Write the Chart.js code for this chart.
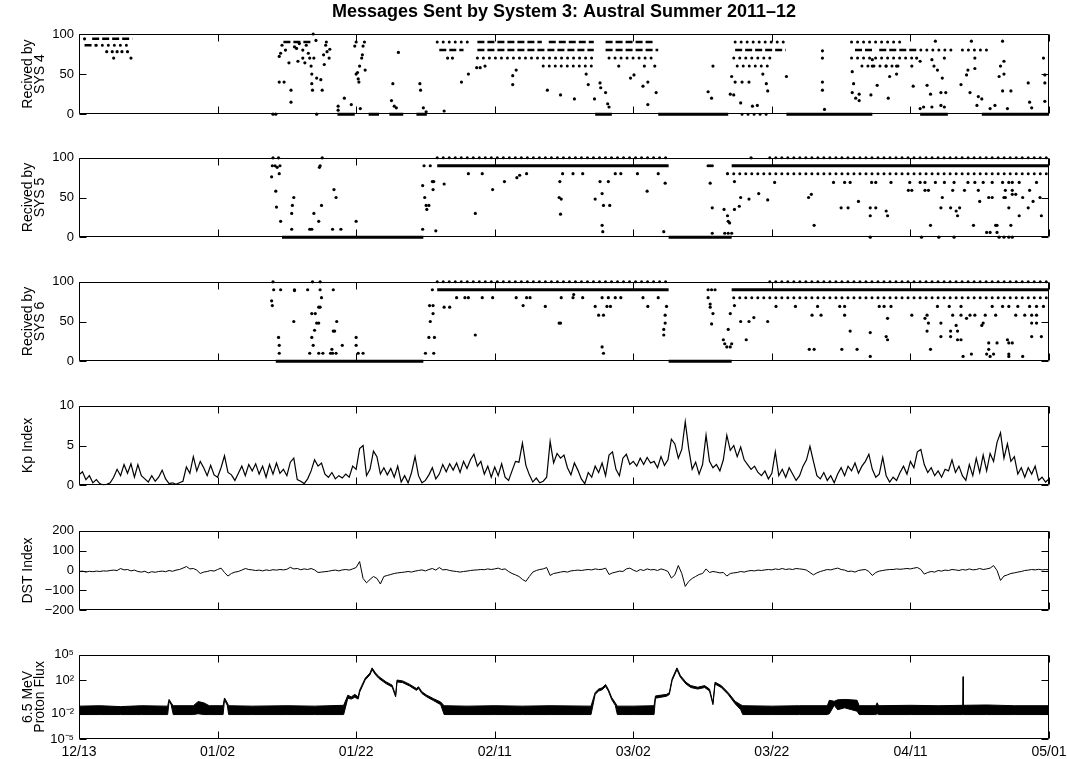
<!DOCTYPE html>
<html>
<head>
<meta charset="utf-8">
<script src="https://cdn.jsdelivr.net/npm/chart.js@4.4.1/dist/chart.umd.min.js"></script>
<style>
  body { margin: 0; background: #fff; width: 1067px; height: 759px; overflow: hidden; position: relative; }
  canvas { position: absolute; left: 0; }
</style>
</head>
<body>
<canvas id="sys4"></canvas>
<canvas id="sys5"></canvas>
<canvas id="sys6"></canvas>
<canvas id="kp"></canvas>
<canvas id="dst"></canvas>
<canvas id="flux"></canvas>
<script>
const chartTitle = 'Messages Sent by System 3: Austral Summer 2011\u201312';

// x axis: days since 12/13/2011
const xTickDays = [0, 20, 40, 60, 80, 100, 120, 140];
const xTickLabels = ['12/13', '01/02', '01/22', '02/11', '03/02', '03/22', '04/11', '05/01'];

// messages received: dense rows [fromDay, toDay, value], sparse rows, single points [day, value]
const sys4Dense = [
  [0.8, 2.5, 86], [1.9, 7.7, 94], [29.5, 33.5, 90], [52.0, 55.5, 80],
  [57.5, 66.8, 90], [67.8, 74.3, 90], [57.5, 74.3, 80], [76.0, 83.0, 90], [76.0, 83.6, 80],
  [94.7, 102.0, 80], [112.0, 114.5, 80], [115.5, 121.0, 80],
  [37.3, 39.8, 0], [41.8, 43.3, 0], [44.8, 46.8, 0], [48.7, 50.2, 0],
  [74.5, 76.9, 0], [83.6, 93.7, 0], [102.1, 114.5, 0], [121.4, 125.4, 0], [130.3, 140, 0]
];
const sys4Sparse = [
  [2.5, 7.7, 86], [51.7, 56.2, 90], [57.5, 74.5, 70], [67.0, 74.5, 60], [76.5, 83.0, 70],
  [94.7, 102.0, 90], [94.5, 100.0, 70], [95.0, 100.0, 60],
  [111.5, 118.5, 90], [111.5, 121.0, 70], [113.0, 119.0, 60],
  [121.5, 126.0, 80], [127.5, 131.0, 80], [95.7, 99.7, 0]
];
const sys4Points = [
  [0.8, 94], [4.0, 78], [4.8, 78], [5.5, 78], [6.2, 78], [7.0, 78], [5.0, 70], [7.5, 70],
  [28.0, 0], [28.4, 0], [28.9, 40], [29.6, 40], [28.9, 72], [29.1, 76], [29.3, 86], [29.8, 80], [30.3, 64],
  [30.6, 30], [30.6, 15], [31.1, 84], [31.4, 82], [31.6, 66], [31.8, 88], [32.3, 80], [32.3, 70], [32.6, 64],
  [32.8, 86], [33.1, 76], [33.3, 70], [33.5, 60], [33.6, 50], [33.6, 38], [33.7, 30], [33.8, 100], [33.9, 70],
  [34.2, 92], [34.3, 45], [34.3, 0], [34.9, 43], [35.1, 30], [35.3, 74], [35.4, 62], [35.6, 86], [35.7, 90],
  [35.8, 78], [36.1, 70], [36.2, 81],
  [37.4, 10], [37.4, 5], [38.3, 20], [39.3, 12], [39.8, 85], [40.0, 90], [40.0, 50], [40.2, 52], [40.4, 40],
  [40.3, 44], [40.5, 60], [40.8, 70], [40.9, 74], [41.0, 85], [41.2, 90], [41.3, 55], [40.6, 7],
  [45.3, 38], [45.1, 17], [45.5, 10], [45.8, 8], [46.1, 77], [49.2, 38], [49.3, 30], [49.7, 8], [50.1, 3], [52.7, 4],
  [53.2, 70], [53.9, 70], [55.2, 40], [56.2, 50], [57.4, 58], [57.9, 58], [58.6, 60], [62.6, 48], [62.6, 37], [63.1, 55],
  [67.6, 30], [69.5, 24], [71.5, 19], [73.2, 50], [73.5, 37], [74.4, 19], [75.2, 39], [75.3, 33], [76.0, 27],
  [76.3, 13], [76.5, 9], [77.9, 60], [79.6, 45], [80.1, 49], [81.4, 35], [82.1, 40], [82.1, 12], [83.3, 27],
  [81.6, 60], [83.1, 60],
  [90.8, 28], [91.3, 20], [91.5, 60], [94.0, 25], [94.5, 24], [94.2, 47], [94.7, 40], [95.5, 14], [95.7, 40],
  [96.7, 40], [97.2, 10], [97.9, 11], [98.7, 50], [99.2, 38], [99.4, 29], [102.1, 47],
  [107.3, 79], [107.3, 70], [107.3, 40], [107.3, 30], [107.6, 6],
  [111.6, 53], [111.8, 38], [111.6, 27], [112.6, 25], [112.6, 17], [112.1, 20], [114.3, 24], [115.2, 36],
  [116.8, 20], [117.0, 47], [118.0, 50], [114.5, 68], [114.5, 60], [116.5, 60], [118.0, 60], [120.2, 60],
  [120.9, 70], [121.4, 66], [120.4, 35], [121.4, 7], [121.9, 9],
  [122.4, 36], [122.9, 25], [123.1, 68], [123.4, 60], [123.9, 55], [123.6, 91], [124.4, 27], [124.6, 45],
  [124.9, 70], [125.1, 27], [123.1, 9], [124.4, 11], [124.9, 9],
  [127.3, 37], [128.1, 49], [128.3, 55], [128.6, 27], [128.8, 91], [129.3, 70], [129.3, 57], [129.6, 11],
  [129.8, 22], [130.3, 19], [131.5, 7], [132.2, 11], [132.8, 47], [133.0, 60], [133.3, 91], [133.5, 66],
  [133.5, 50], [133.3, 29], [134.0, 7], [134.5, 29], [137.0, 39], [137.2, 15], [137.5, 8],
  [139.2, 70], [139.4, 49], [139.4, 39], [139.4, 16]
];

const sys5Dense = [[29.3, 49.7, 0], [51.7, 85.1, 90], [85.1, 94.2, 0], [94.2, 140, 90]];
const sys5Sparse = [[51.7, 85.1, 100], [99.7, 140, 100], [94.5, 140, 80]];
const sys5Points = [
  [28.0, 100], [28.8, 100], [27.9, 90], [28.3, 90], [28.6, 88], [29.0, 90], [28.9, 80], [27.8, 76], [28.4, 58],
  [28.5, 38], [29.1, 20], [30.7, 10], [30.7, 30], [30.8, 40], [31.0, 50], [33.3, 10], [33.6, 10], [33.9, 30],
  [34.6, 20], [34.7, 88], [34.8, 90], [35.1, 100], [35.0, 40], [36.6, 10], [36.8, 60], [37.1, 50], [37.8, 10], [40.0, 20],
  [49.6, 65], [49.9, 50], [50.1, 40], [50.2, 35], [50.5, 40], [49.8, 90], [50.7, 90], [51.0, 70], [51.2, 70],
  [51.1, 60], [49.6, 10], [51.5, 8],
  [52.7, 67], [56.2, 80], [57.2, 30], [58.2, 80], [59.7, 60], [61.4, 70], [63.2, 75], [63.6, 78], [64.6, 80],
  [69.8, 80], [71.3, 80], [72.7, 80], [77.4, 80], [78.2, 80], [80.6, 80], [83.6, 80],
  [69.4, 70], [75.2, 70], [76.4, 70], [84.6, 68], [82.0, 58], [69.3, 50], [69.6, 48], [74.5, 48], [75.5, 55],
  [75.7, 40], [76.6, 40], [69.5, 29], [75.5, 15], [75.6, 7], [84.4, 7],
  [90.8, 90], [91.1, 90], [91.4, 90], [97.0, 100],
  [91.1, 68], [91.4, 37], [93.1, 35], [93.6, 27], [93.7, 20], [93.9, 18], [91.4, 5], [93.2, 5], [93.7, 5],
  [94.2, 5], [94.6, 35], [95.3, 39], [95.5, 50], [96.7, 48], [98.1, 55], [94.6, 70], [93.6, 80], [99.4, 47],
  [100.4, 69], [108.9, 69], [110.5, 69], [111.3, 69], [114.4, 69], [115.0, 69], [117.2, 69], [119.9, 69],
  [121.4, 69], [122.1, 69], [123.6, 69], [124.9, 69], [126.3, 69], [128.3, 69], [129.3, 69], [130.5, 69],
  [131.8, 69], [133.3, 69], [134.2, 69], [134.7, 69], [135.7, 69], [138.2, 69],
  [119.7, 59], [120.2, 59], [122.1, 59], [122.6, 59], [126.1, 59], [127.8, 59], [129.8, 59], [133.7, 59],
  [134.7, 59], [137.2, 59],
  [105.7, 54], [134.7, 54], [135.2, 54],
  [105.3, 50], [124.6, 50], [131.3, 50], [131.8, 50], [133.5, 50], [133.7, 50], [136.2, 50], [138.7, 50],
  [112.5, 45], [130.0, 45], [137.7, 45],
  [110.0, 37], [111.0, 37], [114.2, 37], [115.0, 37], [124.4, 37], [125.8, 37], [127.1, 37], [134.2, 37], [137.0, 37],
  [116.5, 33], [126.6, 33], [114.2, 27], [116.7, 27], [126.8, 27], [135.7, 27], [138.9, 27],
  [106.1, 15], [122.9, 15], [129.1, 15], [132.3, 15], [132.5, 15], [134.5, 15],
  [131.0, 6], [131.5, 6], [132.5, 6],
  [114.2, 0], [121.6, 0], [124.1, 0], [126.3, 0], [132.8, 0], [133.5, 0], [134.2, 0], [134.7, 0]
];

const sys6Dense = [[28.4, 49.7, 0], [51.7, 85.1, 90], [85.1, 94.2, 0], [94.2, 140, 90]];
const sys6Sparse = [[51.7, 85.1, 100], [99.7, 140, 100], [94.5, 140, 80]];
const sys6Points = [
  [28.0, 100], [33.7, 100], [34.8, 100], [28.1, 90], [29.1, 90], [31.1, 90], [33.0, 90], [34.8, 90], [36.7, 90],
  [31.1, 89], [27.8, 76], [27.9, 70], [35.0, 80], [34.6, 68], [34.8, 68], [33.6, 60], [34.1, 60], [34.3, 48],
  [34.6, 48], [31.0, 50], [37.2, 50], [34.0, 39], [36.7, 38], [36.9, 38], [28.8, 30], [33.6, 30], [40.0, 30],
  [28.9, 20], [33.8, 20], [38.0, 20], [40.0, 20], [36.5, 15],
  [28.9, 10], [33.3, 10], [34.6, 10], [35.2, 10], [36.3, 10], [36.6, 10], [37.1, 10], [40.3, 10], [41.0, 10],
  [51.0, 90], [50.6, 70], [51.1, 70], [51.1, 60], [50.7, 50], [50.5, 30], [51.3, 30], [50.0, 10], [51.2, 10],
  [52.7, 68], [53.5, 68], [54.5, 80], [55.7, 80], [56.2, 80], [58.2, 80], [59.7, 80], [63.1, 80], [64.6, 80],
  [64.1, 70], [57.2, 33],
  [65.1, 80], [69.6, 80], [71.3, 80], [72.7, 80], [75.5, 80], [76.4, 80], [77.4, 80], [78.2, 80], [81.4, 80],
  [83.6, 80], [71.4, 84], [67.3, 69], [74.5, 69], [76.2, 69], [76.7, 69], [82.1, 69], [84.8, 69],
  [75.0, 58], [75.7, 58], [84.6, 58], [69.3, 48], [69.5, 48], [84.6, 48], [84.4, 40], [84.4, 33], [75.5, 18], [75.7, 10],
  [90.8, 90], [91.3, 90], [91.8, 90], [90.8, 80], [91.1, 72], [91.1, 68], [91.5, 60], [94.0, 60], [91.3, 47],
  [93.7, 40], [93.0, 27], [93.2, 22], [94.2, 22], [93.5, 18], [94.0, 18], [96.3, 27], [95.5, 50], [96.7, 50],
  [97.4, 55], [99.4, 50], [94.6, 70],
  [100.6, 69], [103.4, 69], [106.6, 69], [109.8, 69], [110.5, 69], [115.5, 69], [116.2, 69], [117.2, 69],
  [123.9, 69], [125.6, 69], [127.3, 69], [131.8, 69], [133.3, 69], [134.2, 69], [135.5, 69], [137.2, 69],
  [138.2, 69], [139.2, 69],
  [105.8, 58], [107.1, 58], [110.5, 58], [120.2, 58], [122.4, 58], [126.1, 58], [127.3, 58], [128.6, 58],
  [129.3, 58], [130.8, 58], [132.3, 58], [135.2, 58], [136.5, 58], [137.5, 58], [138.2, 58],
  [116.7, 54], [122.1, 54], [128.1, 54],
  [122.6, 48], [124.4, 48], [130.5, 48], [137.5, 48], [138.2, 48], [126.6, 45], [130.3, 45],
  [111.3, 38], [122.4, 38], [125.8, 38], [126.8, 38],
  [114.2, 36], [116.5, 31], [124.4, 31], [125.8, 31], [137.5, 31], [138.9, 31],
  [116.7, 27], [126.8, 27], [127.3, 27], [134.0, 27], [131.3, 23], [132.5, 23], [134.2, 23], [134.7, 23],
  [105.4, 15], [106.1, 15], [110.1, 15], [112.3, 15], [122.9, 15], [131.3, 15],
  [128.8, 9], [132.0, 9], [131.0, 9], [134.2, 9],
  [114.2, 6], [127.6, 6], [131.5, 6], [134.2, 6], [136.2, 6]
];

// Kp index, one value every half day from 12/13
const KP_STEP = 0.5;
const kpValues = [
  1.3, 1.7, 0.7, 1.2, 0.3, 0.7, 0.2, 0.0, 0.1, 0.3,
  1.0, 2.0, 1.2, 2.6, 1.5, 2.7, 1.0, 2.6, 1.2, 0.8,
  0.4, 1.2, 0.5, 1.0, 1.9, 0.8, 0.2, 0.3, 0.1, 0.3,
  0.5, 2.3, 1.5, 3.6, 1.8, 3.0, 2.2, 1.2, 2.5, 1.3,
  1.0, 2.2, 3.7, 1.6, 1.3, 0.6, 1.5, 2.4, 1.2, 2.6,
  1.8, 2.7, 1.4, 2.4, 1.0, 2.6, 1.4, 2.8, 1.5, 2.0,
  1.2, 2.9, 3.4, 0.7, 0.5, 0.2, 0.8, 1.8, 3.2, 2.4,
  2.8, 1.4, 1.0, 1.6, 0.8, 1.2, 0.9, 1.4, 1.0, 2.4,
  2.0, 4.6, 5.0, 1.2, 2.0, 4.3, 3.6, 1.4, 2.2, 1.3,
  2.1, 1.0, 2.4, 0.4, 1.2, 0.3, 1.6, 3.6, 1.2, 0.3,
  0.6, 1.3, 2.2, 0.8, 1.4, 2.6, 1.7, 2.7, 1.9, 2.8,
  1.6, 3.0, 2.1, 3.2, 3.9, 2.4, 3.0, 1.4, 2.4, 1.0,
  2.3, 1.2, 2.7, 1.0, 0.6, 1.8, 3.0, 2.9, 5.3, 2.5,
  1.3, 0.4, 0.9, 0.3, 0.5, 1.0, 5.5, 2.8, 4.0, 3.4,
  3.8, 2.2, 1.3, 2.8, 1.9, 0.8, 0.2, 1.6, 1.0, 2.4,
  1.6, 2.8, 1.2, 3.8, 4.2, 2.0, 1.2, 3.4, 3.9, 2.6,
  3.0, 2.4, 3.4, 2.6, 3.5, 2.8, 3.0, 2.2, 3.6, 2.5,
  3.2, 5.8, 5.2, 3.4, 4.5, 8.0, 4.6, 2.0, 2.9, 1.4,
  2.6, 6.3, 3.0, 2.2, 2.6, 1.8, 3.2, 6.3, 4.4, 5.0,
  3.6, 4.8, 3.2, 2.6, 2.0, 2.4, 1.6, 1.2, 1.8, 0.8,
  1.5, 4.2, 1.2, 2.0, 1.0, 2.2, 1.4, 0.6, 1.2, 2.4,
  3.2, 4.9, 3.0, 1.2, 0.8, 1.6, 0.6, 1.2, 0.3, 1.4,
  2.2, 1.2, 2.4, 1.8, 2.8, 1.5, 2.4, 3.0, 3.9, 2.0,
  1.0, 1.4, 3.5, 1.2, 0.4, 1.0, 0.6, 1.6, 2.4, 1.4,
  3.0, 2.2, 4.2, 4.5, 2.6, 1.6, 2.2, 1.2, 1.8, 1.0,
  2.0, 1.8, 3.2, 1.6, 2.4, 1.2, 0.6, 2.6, 1.2, 3.4,
  1.6, 3.8, 1.8, 4.0, 3.0, 5.4, 6.6, 3.4, 5.2, 3.0,
  3.6, 1.4, 2.2, 1.0, 2.2, 1.4, 2.4, 0.6, 1.0, 0.4,
  0.8
];

// DST index (nT), one value every half day
const DST_STEP = 0.5;
const dstValues = [
  -5, -3, -8, -4, -6, -3, -5, -2, -3, 0,
  2, 0, 10, 3, 5, -2, 2, -5, -8, -4,
  -12, -6, -9, -5, -3, -6, 0, -4, 2, 5,
  12, 20, 8, 10, 2, -15, -8, -5, 0, -3,
  5, 12, -10, -28, -15, -8, -5, 2, 10, 5,
  3, 0, 2, -2, 3, 0, 4, 2, 5, 3,
  6, 16, 8, 10, 4, 8, 5, 10, 3, -10,
  -8, -6, -4, 0, 2, -2, 3, 5, 2, 8,
  15, 45, -40, -62, -45, -30, -40, -68, -30, -25,
  -20, -15, -12, -10, -8, -5, -8, -3, 0, 3,
  -2, 5, 10, 2, 15, 3, 5, 0, -3, -5,
  -8, -5, -3, 0, 2, 3, 5, 4, 8, 5,
  8, 12, 5, 8, -5, -15, -22, -30, -45, -55,
  -30, -8, 0, 5, 8, 15, -25, -15, -12, -8,
  -5, -8, -2, 0, 2, 0, 3, 5, 3, 8,
  5, 6, 12, -20, -12, -8, -3, -5, 8, 12,
  2, -5, 5, 0, 8, 3, 5, 0, 8, 3,
  -5, -38, -22, 25, -15, -80, -55, -40, -30, -20,
  -15, 8, -10, -5, -8, -12, -10, -28, -15, -12,
  -10, -5, -8, -3, 0, -2, 2, 0, 3, 5,
  3, 8, 5, 10, 5, 8, 5, 10, 8, 6,
  2, -10, -22, -12, -5, 0, 5, 3, 8, 12,
  5, 2, -5, -3, -8, 0, 3, 5, -5, -25,
  -10, -3, 0, 3, 5, 5, 8, 6, 8, 10,
  8, 12, 15, 5, -18, -10, -5, -8, 0, -3,
  2, 0, 5, 3, 0, 5, 2, 8, 3, 5,
  10, 5, 8, 12, 25, 0, -50, -28, -22, -15,
  -12, -8, -5, 0, 2, 5, 3, 6, 3, 5,
  4
];

// 6.5 MeV proton flux: [day, upper edge, lower edge] of the plotted trace
const fluxBand = [
  [0, 0.08, 0.008], [3, 0.09, 0.008], [6, 0.07, 0.008], [9, 0.09, 0.008], [12.8, 0.08, 0.008],
  [13.0, 0.5, 0.3], [13.3, 0.2, 0.12], [13.6, 0.09, 0.008], [16.5, 0.09, 0.008], [17.2, 0.28, 0.01],
  [18.0, 0.2, 0.008], [18.8, 0.09, 0.008], [20.8, 0.09, 0.008], [21.0, 0.75, 0.45], [21.4, 0.2, 0.1],
  [21.6, 0.09, 0.008], [25, 0.08, 0.008], [30, 0.09, 0.008], [34, 0.08, 0.008], [38.2, 0.1, 0.008],
  [38.8, 1.6, 0.7], [39.3, 1.0, 0.55], [39.8, 2.0, 0.9], [40.3, 1.0, 0.55], [40.5, 6.3, 3.5],
  [41.3, 160, 100], [42.0, 700, 420], [42.3, 2800, 1700], [42.8, 700, 420], [43.3, 250, 150],
  [44.3, 63, 38], [45.2, 25, 15], [45.7, 1.6, 1.0], [45.9, 100, 60], [46.7, 80, 50], [47.7, 32, 20],
  [48.7, 10, 6], [49.0, 16, 10], [49.5, 4, 2.5], [50.2, 1.6, 1.0], [51.2, 0.6, 0.35], [52.2, 0.25, 0.12],
  [52.7, 0.09, 0.008], [56, 0.08, 0.008], [60, 0.09, 0.008], [64, 0.08, 0.008], [68, 0.09, 0.008],
  [73.9, 0.08, 0.008], [74.5, 3.4, 2], [75.0, 8.5, 5], [75.5, 12, 7], [76.0, 30, 17], [76.4, 8, 5],
  [76.9, 0.8, 0.45], [77.4, 0.2, 0.1], [77.7, 0.08, 0.008], [80, 0.08, 0.008], [83.0, 0.09, 0.008],
  [83.2, 1.3, 0.7], [84.8, 2, 1.2], [85.2, 3.2, 1.9], [85.6, 140, 85], [86.3, 2800, 1700], [86.8, 350, 210],
  [87.6, 56, 34], [88.3, 22, 13], [89.3, 14, 8.5], [90.3, 22, 13], [91.0, 8.5, 5], [91.5, 0.2, 0.12],
  [91.8, 56, 34], [92.7, 22, 13], [93.7, 3.2, 1.9], [94.7, 0.3, 0.15], [95.5, 0.12, 0.03], [95.8, 0.09, 0.008],
  [100, 0.08, 0.008], [104, 0.09, 0.008], [108.0, 0.09, 0.008], [108.3, 0.4, 0.01], [109.0, 0.3, 0.1],
  [109.5, 0.45, 0.03], [110.5, 0.5, 0.05], [111.5, 0.45, 0.03], [112.3, 0.4, 0.02], [112.6, 0.09, 0.008],
  [115.0, 0.09, 0.008], [115.2, 0.2, 0.01], [115.4, 0.09, 0.008], [120, 0.1, 0.008], [124, 0.09, 0.008],
  [127.55, 0.1, 0.008], [127.6, 250, 0.008], [127.65, 0.1, 0.008], [131, 0.11, 0.008], [135, 0.09, 0.008],
  [140, 0.09, 0.008]
];
const fluxTicks = [1e-5, 1e-2, 1e2, 1e5];
const fluxTickLabels = ['10\u207B\u2075', '10\u207B\u00B2', '10\u00B2', '10\u2075'];

// ---- layout ----
const FONT = "'Liberation Sans', Arial, Helvetica, sans-serif";
const PLOT_LEFT = 79;
const PLOT_RIGHT = 1049;
const CANVAS_W = 1092;   // wider than the page so the last date label does not squeeze the plot
const PANEL_H = 85;
const panelTops = [34, 157, 281, 405, 530, 654];
const TICK_LEN = 7;

// box around each panel with inward ticks on all four sides
const framePlugin = {
  id: 'frame',
  afterDatasetsDraw(chart) {
    const { ctx, chartArea: a, scales: { x, y } } = chart;
    const L = Math.round(a.left) + 0.5, R = Math.round(a.right) - 0.5;
    const T = Math.round(a.top) + 0.5, B = Math.round(a.bottom) - 0.5;
    ctx.save();
    ctx.strokeStyle = '#000';
    ctx.lineWidth = 1;
    ctx.beginPath();
    ctx.rect(L, T, R - L, B - T);
    xTickDays.forEach(d => {
      const px = Math.round(x.getPixelForValue(d)) + 0.5;
      ctx.moveTo(px, B); ctx.lineTo(px, B - TICK_LEN);
      ctx.moveTo(px, T); ctx.lineTo(px, T + TICK_LEN);
    });
    y.ticks.forEach(t => {
      const py = Math.round(y.getPixelForValue(t.value)) + 0.5;
      ctx.moveTo(L, py); ctx.lineTo(L + TICK_LEN, py);
      ctx.moveTo(R, py); ctx.lineTo(R - TICK_LEN, py);
    });
    ctx.stroke();
    ctx.restore();
  }
};

// figure title centred over the plot area of the top panel
const titlePlugin = {
  id: 'panelTitle',
  afterDraw(chart, args, opts) {
    if (!opts.text) return;
    const { ctx, chartArea: a } = chart;
    ctx.save();
    ctx.fillStyle = '#000';
    ctx.font = 'bold 18px ' + FONT;
    ctx.textAlign = 'center';
    ctx.textBaseline = 'middle';
    ctx.fillText(opts.text, (a.left + a.right) / 2, 12);
    ctx.restore();
  }
};

function runsToLine(runs) {
  const pts = [];
  runs.forEach(([a, b, v]) => pts.push({ x: a, y: v }, { x: b, y: v }, { x: b, y: null }));
  return pts;
}

// rowDash: dash pattern for the dense non-zero rows (SYS 4 rows are broken, SYS 5/6 rows solid)
function messageSets(dense, sparse, points, rowDash) {
  const zeroRows = dense.filter(r => r[2] === 0);
  const valueRows = dense.filter(r => r[2] !== 0);
  return [
    { data: runsToLine(zeroRows), borderColor: '#000', borderWidth: 3, pointRadius: 0, spanGaps: false, clip: false },
    { data: runsToLine(valueRows), borderColor: '#000', borderWidth: rowDash.length ? 2.6 : 3, borderDash: rowDash,
      pointRadius: 0, spanGaps: false, clip: false },
    { data: runsToLine(sparse), borderColor: '#000', borderWidth: 3, borderDash: [0.01, 6], borderCapStyle: 'round',
      pointRadius: 0, spanGaps: false, clip: false },
    { data: points.map(([d, v]) => ({ x: d, y: v })), showLine: false, pointRadius: 1.6,
      pointBackgroundColor: '#000', pointBorderWidth: 0, clip: false }
  ];
}

function buildPanel(id, index, datasets, yAxis, titleLines) {
  const isFirst = index === 0, isLast = index === panelTops.length - 1;
  const topSpace = isFirst ? 34 : 12;
  const xHeight = isLast ? 26 : 0;
  const padBottom = 8;
  const canvas = document.getElementById(id);
  canvas.width = CANVAS_W;
  canvas.height = topSpace + PANEL_H + xHeight + padBottom;
  canvas.style.top = (panelTops[index] - topSpace) + 'px';

  const yTicks = yAxis.ticks;
  return new Chart(canvas.getContext('2d'), {
    type: 'line',
    data: { datasets },
    plugins: [framePlugin, titlePlugin],
    options: {
      responsive: false,
      animation: false,
      devicePixelRatio: 1,
      layout: { padding: { left: 0, right: CANVAS_W - PLOT_RIGHT, top: topSpace, bottom: padBottom } },
      plugins: {
        legend: { display: false },
        tooltip: { enabled: false },
        title: { display: false },
        panelTitle: { text: isFirst ? chartTitle : '' }
      },
      scales: {
        x: {
          type: 'linear',
          min: 0,
          max: 140,
          display: isLast,
          afterBuildTicks: s => { s.ticks = xTickDays.map(v => ({ value: v })); },
          afterFit: s => { s.height = xHeight; },
          grid: { display: false, drawTicks: false },
          border: { display: false },
          ticks: {
            autoSkip: false, maxRotation: 0, padding: 5, color: '#000',
            font: { family: FONT, size: 14 },
            callback: (v, i) => xTickLabels[i]
          }
        },
        y: {
          type: yAxis.type || 'linear',
          min: yAxis.min,
          max: yAxis.max,
          afterFit: s => { s.width = PLOT_LEFT; },
          afterBuildTicks: s => { s.ticks = yTicks.map(v => ({ value: v })); },
          grid: { display: false, drawTicks: false },
          border: { display: false },
          ticks: {
            autoSkip: false, padding: 5, color: '#000',
            font: { family: FONT, size: 13 },
            callback: yAxis.label
          },
          title: {
            display: true,
            text: titleLines,
            color: '#000',
            font: { family: FONT, size: 14, lineHeight: 0.86 },
            padding: { top: 22, bottom: 0 }
          }
        }
      }
    }
  });
}

const pctAxis = { min: 0, max: 100, ticks: [0, 50, 100], label: v => String(v) };

buildPanel('sys4', 0, messageSets(sys4Dense, sys4Sparse, sys4Points, [7, 3]), pctAxis, ['Recived by', 'SYS 4']);
buildPanel('sys5', 1, messageSets(sys5Dense, sys5Sparse, sys5Points, []), pctAxis, ['Recived by', 'SYS 5']);
buildPanel('sys6', 2, messageSets(sys6Dense, sys6Sparse, sys6Points, []), pctAxis, ['Recived by', 'SYS 6']);

buildPanel('kp', 3, [{
  data: kpValues.map((v, i) => ({ x: i * KP_STEP, y: v })),
  borderColor: '#000', borderWidth: 1.2, pointRadius: 0, tension: 0
}], { min: 0, max: 10, ticks: [0, 5, 10], label: v => String(v) }, 'Kp Index');

buildPanel('dst', 4, [{
  data: dstValues.map((v, i) => ({ x: i * DST_STEP, y: v })),
  borderColor: '#000', borderWidth: 1, pointRadius: 0, tension: 0
}], {
  min: -200, max: 200, ticks: [-200, -100, 0, 100, 200],
  label: v => (v < 0 ? '\u2212' + Math.abs(v) : String(v))
}, 'DST Index');

buildPanel('flux', 5, [
  { data: fluxBand.map(r => ({ x: r[0], y: r[1] })), borderColor: '#000', borderWidth: 1,
    backgroundColor: '#000', fill: '+1', pointRadius: 0, tension: 0 },
  { data: fluxBand.map(r => ({ x: r[0], y: r[2] })), borderColor: '#000', borderWidth: 1,
    pointRadius: 0, tension: 0 }
], {
  type: 'logarithmic', min: 1e-5, max: 1e5, ticks: fluxTicks,
  label: (v, i) => fluxTickLabels[i]
}, ['6.5 MeV', 'Proton Flux']);
</script>
</body>
</html>
